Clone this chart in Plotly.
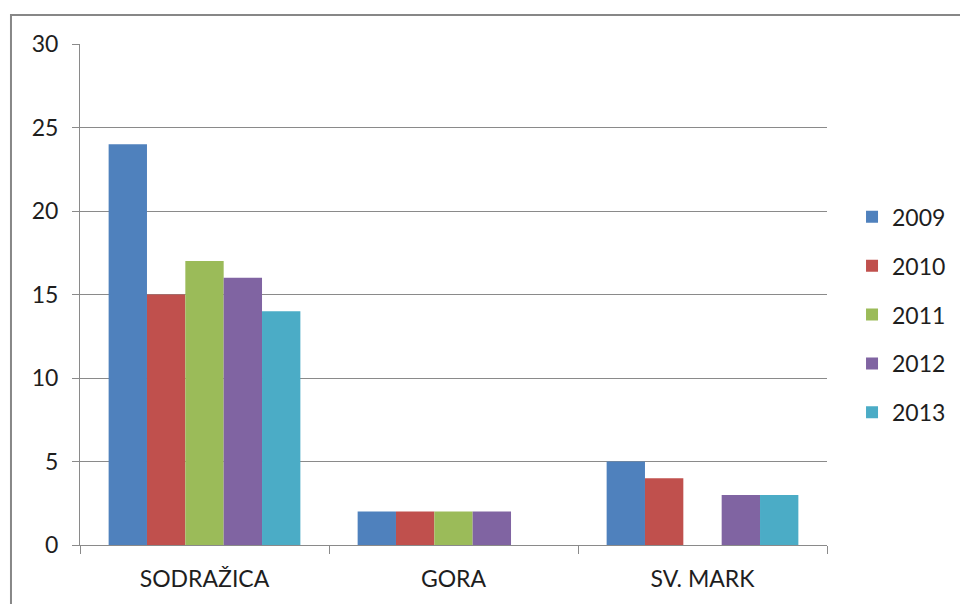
import plotly.graph_objects as go

categories = ["SODRAŽICA", "GORA", "SV. MARK"]
years = ["2009", "2010", "2011", "2012", "2013"]
v2009 = [24, 2, 5]
v2010 = [15, 2, 4]
v2011 = [17, 2, None]
v2012 = [16, 2, 3]
v2013 = [14, None, 3]
colors = ["#4F81BD", "#C0504D", "#9BBB59", "#8064A2", "#4BACC6"]
series = [v2009, v2010, v2011, v2012, v2013]
y_ticks = [0, 5, 10, 15, 20, 25, 30]

FONT = "Lato"
TXT = "#1e1e1e"
fig = go.Figure()
for name, vals, col in zip(years, series, colors):
    fig.add_trace(go.Bar(x=categories, y=vals, name=name, marker=dict(color=col, line=dict(width=0)),
                         legendgroup=name))

grid = "#8a8a8a"
fig.update_layout(
    width=960, height=604,
    margin=dict(l=80, r=133, t=44, b=59, autoexpand=False),
    paper_bgcolor="white", plot_bgcolor="white",
    barmode="group", bargap=0.23, bargroupgap=0,
    font=dict(family=FONT, size=23, color=TXT),
    legend=dict(x=1.0335, xanchor="left", y=0.698, yanchor="top", tracegroupgap=16,
                font=dict(family=FONT, size=23, color=TXT), bgcolor="rgba(0,0,0,0)"),
    xaxis=dict(showline=True, linecolor=grid, linewidth=1, ticks="outside", tickson="boundaries",
               ticklen=8, tickcolor=grid, showgrid=False, ticklabelstandoff=13),
    yaxis=dict(range=[0, 30], tickvals=y_ticks, showline=True, linecolor=grid, linewidth=1,
               ticks="outside", ticklen=7, tickcolor=grid, gridcolor=grid, gridwidth=1,
               zeroline=False, ticklabelstandoff=9),
    shapes=[dict(type="rect", xref="paper", yref="paper", x0=-0.0924, x1=1.5, y0=-0.3, y1=1.058,
                 line=dict(color="#878787", width=2), fillcolor="rgba(0,0,0,0)", layer="below")],
)

fig.write_html("out.html", config={"displayModeBar": False},
               post_script="document.body.style.margin='0';document.body.style.overflow='hidden';")
